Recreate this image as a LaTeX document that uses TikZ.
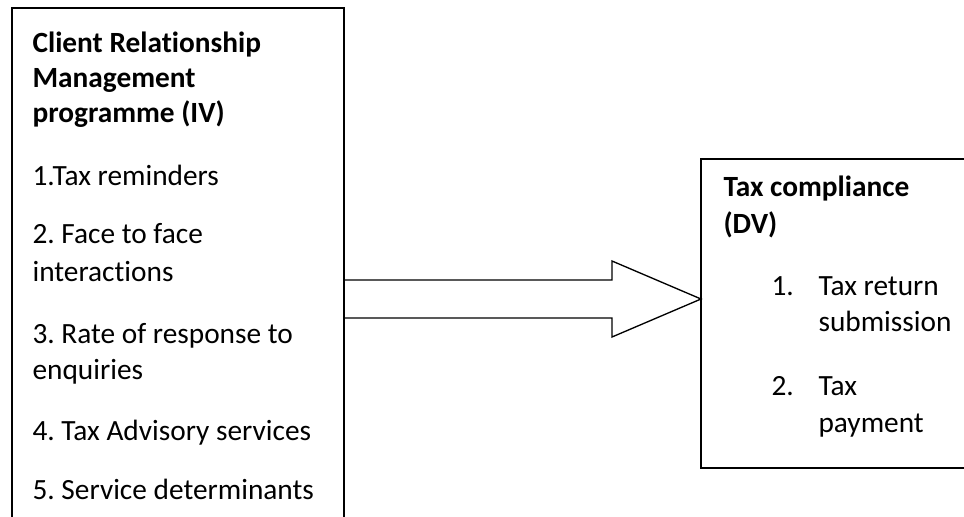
\documentclass[tikz,border=0pt]{standalone}
\usepackage{fontspec}
\setmainfont{Carlito}[Ligatures=NoCommon]
\usetikzlibrary{calc,fit}
\frenchspacing
\begin{document}
\begin{tikzpicture}[x=0.375pt,y=-0.375pt,
  boxline/.style={draw=black, line width=0.5pt},
  blockarrow/.style={draw=black, line width=0.5pt, line join=miter},
  txt/.style={anchor=base west, inner sep=0pt, font=\fontsize{11}{13}\selectfont},
  hd/.style={anchor=base west, inner sep=0pt, font=\fontsize{11}{13}\selectfont\bfseries},
  frame/.style={inner sep=0pt, outer sep=0pt}]
\useasboundingbox[fill=white] (0,0) rectangle (964,517);

% frames
\coordinate (crmA) at (12,8);
\coordinate (crmB) at (344,517);
\node[frame, fit=(crmA)(crmB)] (crm) {};
\coordinate (tcA) at (701,159);
\coordinate (tcB) at (964,468);
\node[frame, fit=(tcA)(tcB)] (tc) {};

\draw[boxline] (crm.south west) -- (crm.north west) -- (crm.north east) -- (crm.south east);
\draw[boxline] (tc.north east) -- (tc.north west) -- (tc.south west) -- (tc.south east);

% left texts
\node[hd] (h1) at (32,53) {Client Relationship};
\node[hd] (h2) at (32,88) {Management};
\node[hd] (h3) at (32,123) {programme (IV)};
\node[txt] (i1) at (32,185) {1.Tax reminders};
\node[txt] (i2a) at (32,243) {2. Face to face};
\node[txt] (i2b) at (32,281) {interactions};
\node[txt] (i3a) at (32,343) {3. Rate of response to};
\node[txt] (i3b) at (32,379) {enquiries};
\node[txt] (i4) at (32,440) {4. Tax Advisory services};
\node[txt] (i5) at (32,499) {5. Service determinants};

% right texts
\node[hd] (t1) at (723,197) {Tax compliance};
\node[hd] (t2) at (723,233) {(DV)};
\node[txt] (n1) at (771,295) {1.};
\node[txt] (r1a) at (818,295) {Tax return};
\node[txt] (r1b) at (818,332) {submission};
\node[txt] (n2) at (771,395) {2.};
\node[txt] (r2a) at (818,395) {Tax};
\node[txt] (r2b) at (818,432) {payment};

% block arrow
\coordinate (lvl) at (0,299);
\draw[blockarrow] ($(crm.east |- lvl)+(0,-19)$) -- ++(268,0) -- ++(0,-19)
  -- (tc.west |- lvl) -- ++(-89,38) -- ++(0,-19) -- ($(crm.east |- lvl)+(0,19)$);
\end{tikzpicture}
\end{document}
